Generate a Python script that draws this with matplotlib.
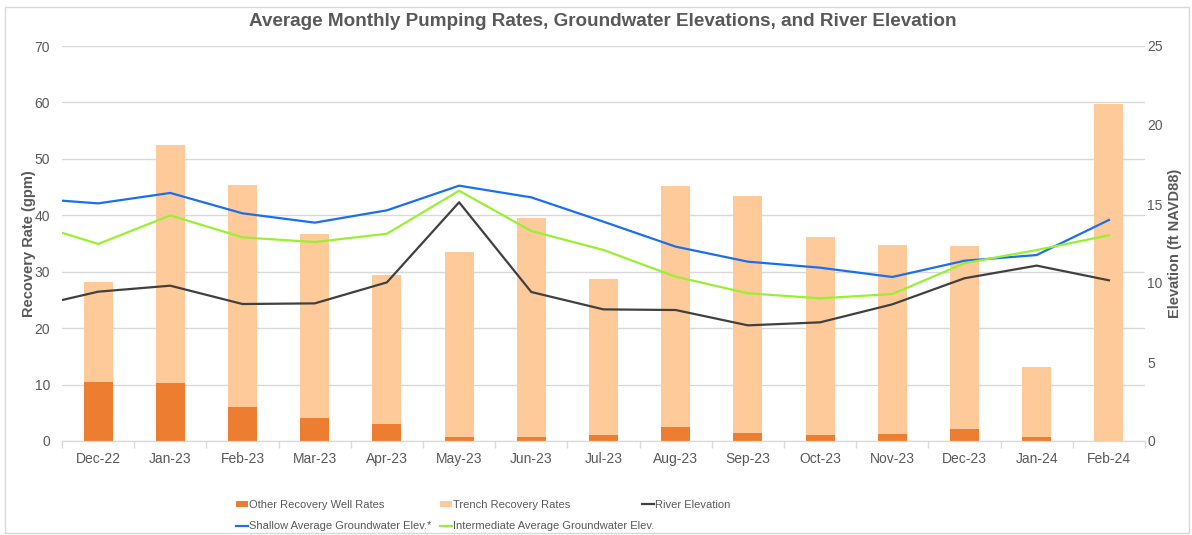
import matplotlib.pyplot as plt
import numpy as np
from matplotlib.patches import Rectangle, Patch
from matplotlib.lines import Line2D

plt.rcParams['font.family'] = ['Liberation Sans', 'DejaVu Sans']

# 数据
months = ['Dec-22', 'Jan-23', 'Feb-23', 'Mar-23', 'Apr-23', 'May-23', 'Jun-23', 'Jul-23',
          'Aug-23', 'Sep-23', 'Oct-23', 'Nov-23', 'Dec-23', 'Jan-24', 'Feb-24']
other_rates = [10.5, 10.2, 6.0, 4.0, 3.1, 0.7, 0.7, 1.0, 2.4, 1.4, 1.0, 1.2, 2.2, 0.7, 0.0]
total_rates = [28.2, 52.5, 45.3, 36.7, 29.5, 33.5, 39.5, 28.7, 45.2, 43.5, 36.2, 34.7, 34.6, 13.2, 59.8]
trench_rates = [t - o for t, o in zip(total_rates, other_rates)]

# 高程线（第一个值为 Nov-22，在图外被裁掉）
line_months = ['Nov-22'] + months
river_elev = [8.39, 9.45, 9.83, 8.67, 8.71, 10.04, 15.11, 9.43, 8.33, 8.29, 7.32, 7.51, 8.65, 10.30, 11.10, 10.17]
shallow_elev = [15.38, 15.04, 15.70, 14.41, 13.82, 14.60, 16.16, 15.42, 13.88, 12.30, 11.35, 10.97, 10.38, 11.41, 11.77, 13.99]
inter_elev = [13.89, 12.47, 14.28, 12.89, 12.59, 13.12, 15.84, 13.29, 12.09, 10.40, 9.35, 9.03, 9.30, 11.25, 12.09, 13.02]

c_other = '#ED7D31'
c_trench = '#FFCA99'
c_river = '#404040'
c_shallow = '#1A6FF0'
c_inter = '#99F032'
c_text = '#595959'
c_grid = '#D9D9D9'

W, H = 1192, 535
fig = plt.figure(figsize=(W / 100, H / 100), dpi=100)
ax = fig.add_axes([62 / W, 1 - 441 / H, (1145 - 62) / W, (441 - 46) / H])
ax2 = ax.twinx()

x = np.arange(len(months))
width = 0.4

ax.bar(x, other_rates, width, color=c_other, zorder=2)
ax.bar(x, trench_rates, width, bottom=other_rates, color=c_trench, zorder=2)

xl = np.arange(-1, len(months))
ax2.plot(xl, river_elev, color=c_river, linewidth=1.6)
ax2.plot(xl, shallow_elev, color=c_shallow, linewidth=1.6)
ax2.plot(xl, inter_elev, color=c_inter, linewidth=1.6)

ax.set_xlim(-0.5, len(months) - 0.5)
ax.set_ylim(0, 70)
ax.set_yticks(range(0, 71, 10))
ax2.set_ylim(0, 25)
ax2.set_yticks(range(0, 26, 5))

ax.set_xticks(x)
ax.set_xticklabels(months)
ax.set_xticks(np.arange(-0.5, len(months)), minor=True)
ax.tick_params(axis='x', which='major', length=0, pad=8, labelsize=10, labelcolor=c_text)
ax.tick_params(axis='x', which='minor', length=5, color=c_grid, width=1)
ax.tick_params(axis='y', length=0, pad=8.5, labelsize=10, labelcolor=c_text)
ax2.tick_params(axis='y', length=0, pad=1.5, labelsize=10, labelcolor=c_text)

ax.grid(axis='y', color=c_grid, linewidth=1)
ax.set_axisbelow(True)
for a in (ax, ax2):
    for s in ['top', 'left', 'right']:
        a.spines[s].set_visible(False)
    a.spines['bottom'].set_color(c_grid)

ax.set_ylabel('Recovery Rate (gpm)', fontsize=10.5, fontweight='bold', color=c_text, labelpad=-1)
ax2.set_ylabel('Elevation (ft NAVD88)', fontsize=10.5, fontweight='bold', color=c_text,
               rotation=90, labelpad=4)

fig.text(603 / W, 1 - 22 / H, 'Average Monthly Pumping Rates, Groundwater Elevations, and River Elevation',
         ha='center', va='center', fontsize=13.6, fontweight='bold', color=c_text)

# 图例：三列分别放置，按行排列
h_other = Patch(facecolor=c_other, label='Other Recovery Well Rates')
h_trench = Patch(facecolor=c_trench, label='Trench Recovery Rates')
h_river = Line2D([0], [0], color=c_river, linewidth=1.6, label='River Elevation')
h_shallow = Line2D([0], [0], color=c_shallow, linewidth=1.6, label='Shallow Average Groundwater Elev.*')
h_inter = Line2D([0], [0], color=c_inter, linewidth=1.6, label='Intermediate Average Groundwater Elev.')

columns = [([h_other, h_shallow], 236, 515.5), ([h_trench, h_inter], 440, 515.5), ([h_river], 642, 504.5)]
for hs, lx, ly in columns:
    leg = fig.legend(handles=hs, loc='center left', bbox_to_anchor=(lx / W, 1 - ly / H),
                     frameon=False, fontsize=8.0, handlelength=1.1, handleheight=0.5,
                     handletextpad=0.1, labelspacing=1.05, borderpad=0, borderaxespad=0)
    for t in leg.get_texts():
        t.set_color(c_text)

# 外边框
fig.patches.append(Rectangle((5 / W, 2 / H), 1 - 8 / W, 1 - 9 / H,
                             transform=fig.transFigure, fill=False, edgecolor=c_grid, linewidth=1))

fig.savefig('out.png', dpi=100)
